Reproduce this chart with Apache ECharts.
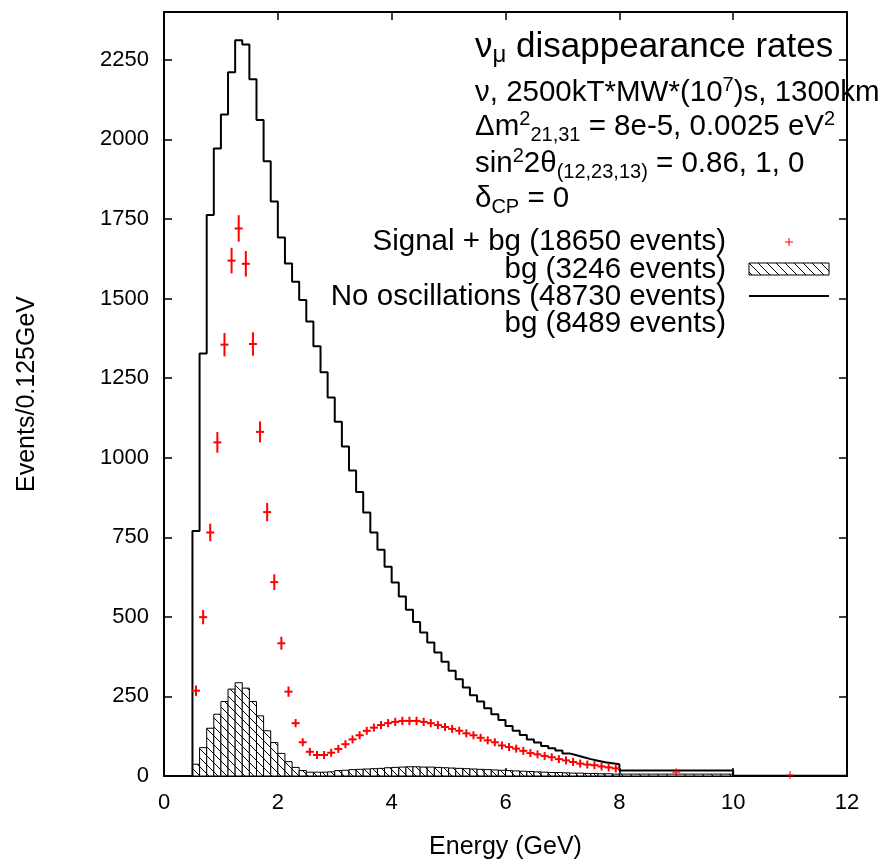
<!DOCTYPE html>
<html lang="en">
<head>
<meta charset="UTF-8">
<title>nu_mu disappearance rates</title>
<script src="https://cdn.jsdelivr.net/npm/echarts@6/dist/echarts.min.js"></script>
</head>
<body style="margin:0">
<div id="main" style="width:888px;height:862px;"></div>
<script>
// bins: 0.125 GeV from 0.5 to 8 GeV, then two wide bins 8-10 and 10-12
const binStart = 0.5;
const binWidth = 0.125;
const wideEdges = [8, 10, 12];

// no oscillations, events / 0.125 GeV
const noOsc = [770, 1327, 1762, 1971, 2078, 2211, 2311, 2298, 2189, 2061,
  1931, 1805, 1692, 1610, 1553, 1495, 1428, 1350, 1268, 1189,
  1113, 1035, 960, 892, 828, 765, 711, 657, 608, 564,
  522, 484, 451, 419, 388, 359, 331, 304, 278, 254,
  234, 213, 194, 176, 157, 142, 129, 115, 105, 94,
  87, 80, 71, 65, 59, 53, 48, 43, 40, 37];
const noOscWide = [17, 1];

// background (hatched)
const bg = [37, 89, 150, 194, 234, 273, 293, 276, 234, 189,
  142, 105, 71, 45, 27, 17, 12, 12, 12, 13,
  17, 18, 20, 21, 22, 23, 24, 26, 27, 28,
  29, 29, 28, 28, 27, 26, 25, 24, 23, 22,
  21, 20, 19, 18, 17, 16, 15, 14, 13, 12,
  11, 11, 10, 9, 9, 8, 8, 7, 7, 6];
const bgWide = [6, 0];

// signal + bg points
const signal = [268, 499, 765, 1048, 1355, 1619, 1720, 1609, 1357, 1081,
  829, 609, 417, 265, 166, 106, 76, 66, 66, 73,
  85, 100, 115, 128, 142, 152, 160, 166, 170, 173,
  173, 173, 170, 166, 160, 154, 148, 142, 134, 128,
  120, 112, 106, 96, 91, 86, 79, 72, 68, 63,
  59, 53, 49, 44, 39, 36, 34, 30, 27, 24];
const signalWide = [12, 3];

const yTicks = [0, 250, 500, 750, 1000, 1250, 1500, 1750, 2000, 2250];

const FONT = '"Liberation Sans", Arial, Helvetica, sans-serif';

// hatch pattern tile
const tile = document.createElement('canvas');
tile.width = 9;
tile.height = 9;
const tc = tile.getContext('2d');
tc.fillStyle = '#fff';
tc.fillRect(0, 0, 9, 9);
tc.strokeStyle = '#000';
tc.lineWidth = 1;
tc.beginPath();
tc.moveTo(-1, -1);
tc.lineTo(10, 10);
tc.stroke();
const hatch = { image: tile, repeat: 'repeat' };

// build series data
const bgData = bg.map((v, k) => [binStart + k * binWidth, binStart + (k + 1) * binWidth, v]);
bgWide.forEach((v, i) => bgData.push([wideEdges[i], wideEdges[i + 1], v]));

const noOscData = [[binStart, 0]];
noOsc.forEach((v, k) => noOscData.push([binStart + k * binWidth, v]));
noOscWide.forEach((v, i) => noOscData.push([wideEdges[i], v]));
noOscData.push([wideEdges[2], noOscWide[1]]);

const sigData = signal.map((v, k) => [binStart + (k + 0.5) * binWidth, v]);
signalWide.forEach((v, i) => sigData.push([(wideEdges[i] + wideEdges[i + 1]) / 2, v]));

function renderBar(params, api) {
  const p0 = api.coord([api.value(0), 0]);
  const p1 = api.coord([api.value(1), api.value(2)]);
  return {
    type: 'rect',
    shape: { x: p0[0], y: p1[1], width: p1[0] - p0[0], height: p0[1] - p1[1] },
    style: { fill: hatch, stroke: '#000', lineWidth: 1 }
  };
}

function renderCross(params, api) {
  const x = api.value(0), y = api.value(1);
  const c = api.coord([x, y]);
  const err = Math.sqrt(y);
  const top = Math.min(api.coord([x, y + err])[1], c[1] - 4);
  const bot = Math.max(api.coord([x, y - err])[1], c[1] + 4);
  const w = x > 8 ? 1 : 2;
  return {
    type: 'group',
    children: [
      { type: 'line', shape: { x1: c[0] - 4, y1: c[1], x2: c[0] + 4, y2: c[1] }, style: { stroke: '#f00', lineWidth: w } },
      { type: 'line', shape: { x1: c[0], y1: top, x2: c[0], y2: bot }, style: { stroke: '#f00', lineWidth: w } }
    ]
  };
}

const axisLine = { show: true, onZero: false, lineStyle: { color: '#000', width: 2 } };
const axisTick = { show: true, inside: true, length: 8, lineStyle: { color: '#000', width: 1.5 } };
const tickFont = { color: '#000', fontSize: 22, fontFamily: FONT };

const rich = {
  n: { fontSize: 29.5, lineHeight: 36, fontFamily: FONT, color: '#000' },
  t: { fontSize: 35, lineHeight: 40, fontFamily: FONT, color: '#000' },
  p: { fontSize: 20, lineHeight: 12, verticalAlign: 'top', fontFamily: FONT, color: '#000' },
  s: { fontSize: 20, lineHeight: 12, verticalAlign: 'bottom', fontFamily: FONT, color: '#000' },
  ts: { fontSize: 24, lineHeight: 14, verticalAlign: 'bottom', fontFamily: FONT, color: '#000' }
};

function infoText(y, text) {
  return {
    type: 'text', x: 475, y: y, z: 100,
    style: { text: text, rich: rich, align: 'left', verticalAlign: 'middle', textAlign: 'left', textVerticalAlign: 'middle' }
  };
}

function legendText(y, text) {
  return {
    type: 'text', x: 726, y: y, z: 100,
    style: { text: text, fill: '#000', font: '29.5px ' + FONT, align: 'right', verticalAlign: 'middle', textAlign: 'right', textVerticalAlign: 'middle' }
  };
}

const myChart = echarts.init(document.getElementById('main'));

const option = {
  backgroundColor: '#fff',
  animation: false,
  grid: { left: 164, right: 41, top: 12, bottom: 86, outerBoundsMode: 'none' },
  xAxis: [{
    type: 'value', min: 0, max: 12, interval: 2, position: 'bottom',
    axisLine: axisLine, axisTick: axisTick, splitLine: { show: false },
    axisLabel: Object.assign({ margin: 16 }, tickFont),
    name: 'Energy (GeV)', nameLocation: 'middle', nameGap: 59,
    nameTextStyle: { color: '#000', fontSize: 25, fontFamily: FONT }
  }, {
    type: 'value', min: 0, max: 12, interval: 2, position: 'top',
    axisLine: axisLine, axisTick: axisTick, splitLine: { show: false },
    axisLabel: { show: false }
  }],
  yAxis: [{
    type: 'value', min: 0, max: 2400, interval: 250, position: 'left',
    axisLine: axisLine, axisTick: axisTick, splitLine: { show: false },
    axisLabel: Object.assign({
      margin: 15,
      formatter: v => (yTicks.indexOf(v) >= 0 ? String(v) : '')
    }, tickFont),
    name: 'Events/0.125GeV', nameLocation: 'middle', nameGap: 124,
    nameTextStyle: { color: '#000', fontSize: 25, fontFamily: FONT }
  }, {
    type: 'value', min: 0, max: 2400, interval: 250, position: 'right',
    axisLine: axisLine, axisTick: axisTick, splitLine: { show: false },
    axisLabel: { show: false }
  }],
  series: [{
    name: 'bg',
    type: 'custom',
    renderItem: renderBar,
    encode: { x: [0, 1], y: 2 },
    data: bgData,
    z: 2
  }, {
    name: 'No oscillations',
    type: 'line',
    step: 'end',
    symbol: 'none',
    lineStyle: { color: '#000', width: 2 },
    data: noOscData,
    z: 3
  }, {
    name: 'Signal + bg',
    type: 'custom',
    renderItem: renderCross,
    encode: { x: 0, y: 1 },
    data: sigData,
    z: 4
  }],
  graphic: [
    infoText(47, '{t|ν}{ts|μ}{t| disappearance rates}'),
    infoText(93, '{n|ν, 2500kT*MW*(10}{p|7}{n|)s, 1300km}'),
    infoText(127, '{n|Δm}{p|2}{s|21,31}{n| = 8e-5, 0.0025 eV}{p|2}'),
    infoText(164, '{n|sin}{p|2}{n|2θ}{s|(12,23,13)}{n| = 0.86, 1, 0}'),
    infoText(199, '{n|δ}{s|CP}{n| = 0}'),
    legendText(242, 'Signal + bg (18650 events)'),
    legendText(270, 'bg (3246 events)'),
    legendText(297, 'No oscillations (48730 events)'),
    legendText(324, 'bg (8489 events)'),
    { type: 'line', z: 100, shape: { x1: 785, y1: 242, x2: 793, y2: 242 }, style: { stroke: '#f00', lineWidth: 1 } },
    { type: 'line', z: 100, shape: { x1: 789, y1: 238, x2: 789, y2: 246 }, style: { stroke: '#f00', lineWidth: 1 } },
    { type: 'rect', z: 100, shape: { x: 749, y: 263, width: 80, height: 12 }, style: { fill: hatch, stroke: '#000', lineWidth: 1 } },
    { type: 'line', z: 100, shape: { x1: 749, y1: 296, x2: 829, y2: 296 }, style: { stroke: '#000', lineWidth: 2 } }
  ]
};

myChart.setOption(option);
</script>
</body>
</html>
